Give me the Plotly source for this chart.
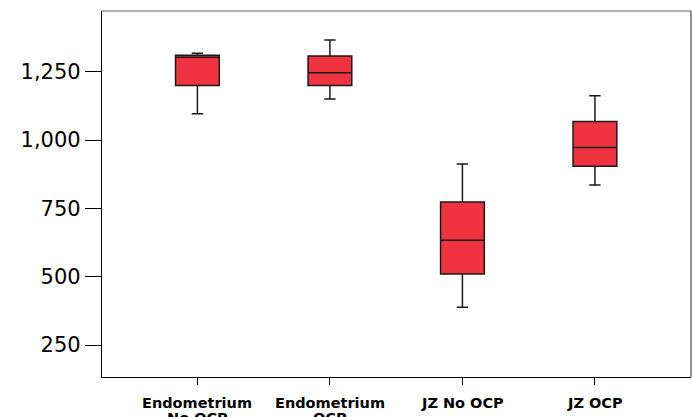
import plotly.graph_objects as go

categories = ["Endometrium No OCP", "Endometrium OCP", "JZ No OCP", "JZ OCP"]
label_line1 = ["Endometrium", "Endometrium", "JZ No OCP", "JZ OCP"]
label_line2 = ["No OCP", "OCP", "", ""]
lower_whisker = [1096, 1150, 388, 835]
q1_values = [1199, 1199, 510, 904]
median_values = [1303, 1246, 633, 973]
q3_values = [1310, 1307, 773, 1068]
upper_whisker = [1317, 1366, 912, 1162]
y_tick_values = [250, 500, 750, 1000, 1250]
y_tick_labels = ["250", "500", "750", "1,000", "1,250"]

fig = go.Figure()
fig.add_trace(go.Box(
    x=categories,
    q1=q1_values,
    median=median_values,
    q3=q3_values,
    lowerfence=lower_whisker,
    upperfence=upper_whisker,
    fillcolor="#EF3340",
    line=dict(color="#1a1a1a", width=1.5),
    width=0.33,
    whiskerwidth=0.26,
    boxpoints=False,
    hoverinfo="skip",
))

fig.update_layout(
    width=692, height=417,
    margin=dict(l=102, r=1, t=11, b=40),
    paper_bgcolor="white", plot_bgcolor="white",
    showlegend=False,
    font=dict(family="DejaVu Sans", color="black"),
)
fig.update_xaxes(
    type="category", range=[-0.72, 3.725],
    showline=True, linecolor="black", linewidth=1.3,
    ticks="outside", ticklen=7, tickcolor="black", tickwidth=1.3,
    showticklabels=False, showgrid=False, zeroline=False,
)
fig.update_yaxes(
    range=[133, 1472],
    tickvals=y_tick_values, ticktext=y_tick_labels,
    showline=True, linecolor="black", linewidth=1.3,
    ticks="outside", ticklen=16, tickcolor="black", tickwidth=1.3,
    tickfont=dict(family="DejaVu Sans", size=21, color="black"),
    showgrid=False, zeroline=False,
)

# light frame on top and right
fig.add_shape(type="line", xref="paper", yref="paper", x0=0, x1=1, y0=1, y1=1,
              line=dict(color="#9a9a9a", width=1.3))
fig.add_shape(type="line", xref="paper", yref="paper", x0=1, x1=1, y0=0, y1=1,
              line=dict(color="#555555", width=1.3))

for cat, l1, l2 in zip(categories, label_line1, label_line2):
    fig.add_annotation(x=cat, xref="x", yref="paper", y=0, yshift=-16,
                       text=f"<b>{l1}</b>", showarrow=False, yanchor="top",
                       font=dict(family="DejaVu Sans", size=14.5, color="black"))
    if l2:
        fig.add_annotation(x=cat, xref="x", yref="paper", y=0, yshift=-31,
                           text=f"<b>{l2}</b>", showarrow=False, yanchor="top",
                           font=dict(family="DejaVu Sans", size=14.5, color="black"))

fig.write_html("out.html", config={"displayModeBar": False},
               post_script="document.body.style.margin='0';document.body.style.padding='0';")
